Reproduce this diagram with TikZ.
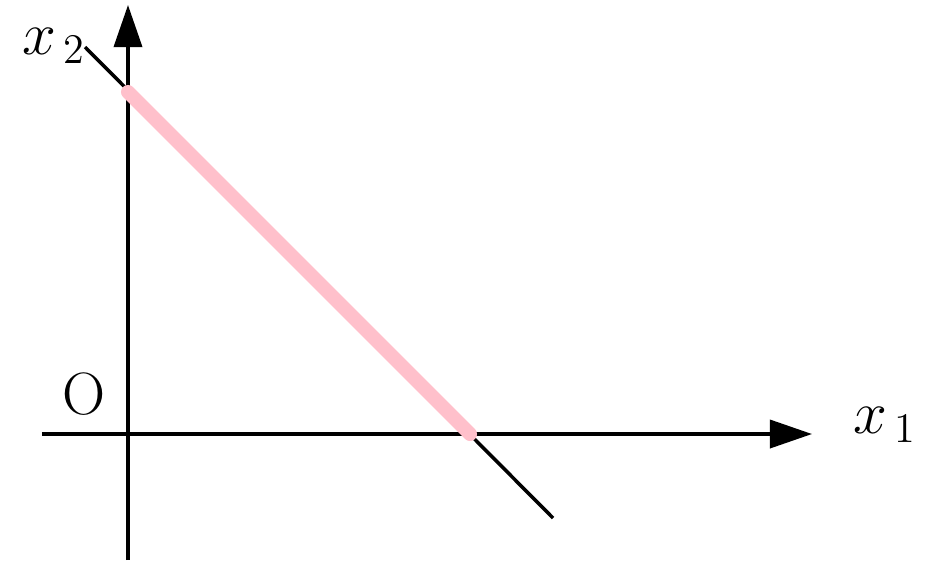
\documentclass[tikz,border=0pt]{standalone}
\usepackage{amsmath}
\usepackage{tikz}
\usetikzlibrary{arrows.meta,positioning}
\definecolor{segpink}{RGB}{255,192,203}

\begin{document}
\begin{tikzpicture}[line width=1pt,
    axis/.style={-{Triangle[length=12pt,width=8pt]}},
    every node/.style={font=\fontsize{17}{20}\selectfont}]
    \useasboundingbox (-1.28,-1.28) rectangle (8.00,4.34);

    % 坐标轴
    \coordinate (o) at (0,0);
    \coordinate (xl) at (-0.86,0);
    \coordinate (xr) at (6.84,0);
    \coordinate (yb) at (0,-1.26);
    \coordinate (yt) at (0,4.29);
    \draw[axis] (xl) -- (xr);
    \draw[axis] (yb) -- (yt);
    \node at (7.57,0.09) (x1) {$x_{\mkern3mu 1}$};
    \node at (-0.74,3.88) (x2) {$x_{\mkern3mu 2}$};
    \node at (-0.44,0.40) (olab) {O};

    % 直线与线段
    \coordinate (l1) at (-0.43,3.87);
    \coordinate (l2) at (4.25,-0.84);
    \coordinate (p1) at (0,3.42);
    \coordinate (p2) at (3.42,0);
    \draw (l1) -- (l2);
    \draw[segpink, line width=4pt, line cap=round] (p1) -- (p2);
\end{tikzpicture}
\end{document}
